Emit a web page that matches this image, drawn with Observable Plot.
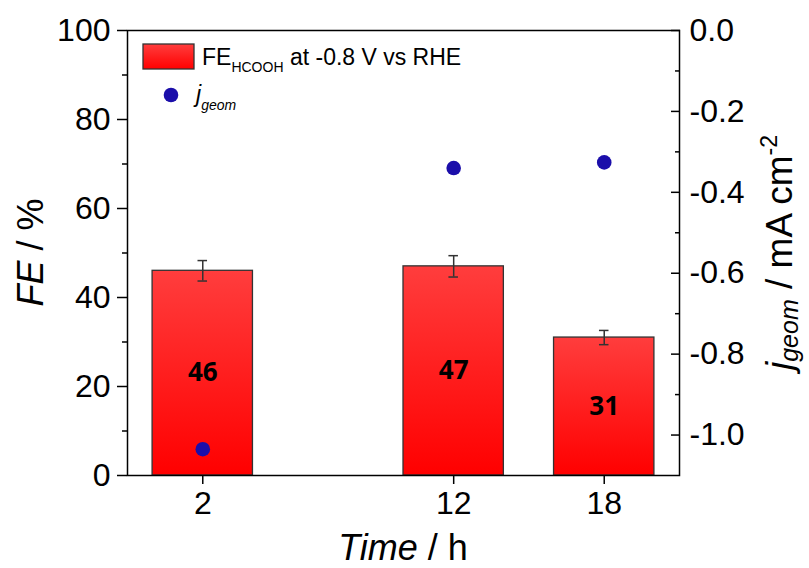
<!DOCTYPE html>
<html><head><meta charset="utf-8">
<script src="https://cdn.jsdelivr.net/npm/d3@7"></script>
<script src="https://cdn.jsdelivr.net/npm/@observablehq/plot@0.6"></script>
<style>body{margin:0;background:#fff} svg{display:block}</style>
</head><body><div id="chart"></div>
<script>
// ---- data ----
const times = [2, 12, 18];
const fe = [46, 47, 31];
const feErr = [2.3, 2.4, 1.6];
const jGeom = [-1.035, -0.34, -0.326];
const feTicks = [0, 20, 40, 60, 80, 100];
const feMinor = [10, 30, 50, 70, 90];
const jTicks = [0, -0.2, -0.4, -0.6, -0.8, -1.0];
const jMinor = [-0.1, -0.3, -0.5, -0.7, -0.9];
const feDomain = [0, 100];
const jDomain = [-1.1, 0];
const xDomain = [-1, 21];
const legendBar = "FE";
const legendBarSub = "HCOOH";
const legendBarRest = " at -0.8 V vs RHE";

const fam = "Liberation Sans, Arial, sans-serif";
const barHalf = 2, capHalf = 0.19;
const j2fe = d3.scaleLinear().domain(jDomain).range(feDomain);
const rows = times.map((t, i) => ({t, fe: fe[i], err: feErr[i], j: jGeom[i]}));
const fmtJ = d => { const v = j2fe.invert(d); return (Math.abs(v) < 1e-9 ? 0 : v).toFixed(1); };

const W = 809, H = 568, mL = 127, mR = 130, mT = 30, mB = 93;

const chart = Plot.plot({
  width: W, height: H,
  marginLeft: mL, marginRight: mR, marginTop: mT, marginBottom: mB,
  style: {fontFamily: fam, background: "white", color: "black"},
  x: {domain: xDomain},
  y: {domain: feDomain},
  marks: [
    Plot.rectY(rows, {x1: d => d.t - barHalf, x2: d => d.t + barHalf, y1: 0, y2: "fe",
      fill: "url(#barGrad)", stroke: "#333", strokeWidth: 1.3}),
    Plot.ruleX(rows, {x: "t", y1: d => d.fe - d.err, y2: d => d.fe + d.err, stroke: "#333", strokeWidth: 1.5}),
    Plot.ruleY(rows, {y: d => d.fe + d.err, x1: d => d.t - capHalf, x2: d => d.t + capHalf, stroke: "#333", strokeWidth: 1.5}),
    Plot.ruleY(rows, {y: d => d.fe - d.err, x1: d => d.t - capHalf, x2: d => d.t + capHalf, stroke: "#333", strokeWidth: 1.5}),
    Plot.text(rows, {x: "t", y: d => d.fe / 2, text: d => String(d.fe), fontSize: 26, fontWeight: "bold",
      fontFamily: "Open Sans, sans-serif", fill: "black"}),
    Plot.dot(rows, {x: "t", y: d => j2fe(d.j), r: 7.3, fill: "#1b0eaa", stroke: "none"}),
    Plot.frame({stroke: "black", strokeWidth: 1.5}),
    Plot.axisY(feTicks, {anchor: "left", tickSize: 10, tickPadding: 7, fontSize: 32, label: null, strokeWidth: 1.5}),
    Plot.axisY(feMinor, {anchor: "left", tickSize: 5, tickFormat: () => "", label: null, strokeWidth: 1.5}),
    Plot.axisY(jTicks.map(j2fe), {anchor: "right", tickSize: -9, tickPadding: 19, tickFormat: fmtJ, fontSize: 32, label: null, strokeWidth: 1.5}),
    Plot.axisY(jMinor.map(j2fe), {anchor: "right", tickSize: -5, tickFormat: () => "", label: null, strokeWidth: 1.5}),
    Plot.axisX(times, {tickSize: 9, tickPadding: 7, fontSize: 32, label: null, strokeWidth: 1.5})
  ]
});
document.getElementById("chart").appendChild(chart);

const svg = d3.select(chart);
const defs = svg.insert("defs", ":first-child");
const g = defs.append("linearGradient").attr("id", "barGrad").attr("x1", 0).attr("y1", 0).attr("x2", 0).attr("y2", 1);
g.append("stop").attr("offset", "0%").attr("stop-color", "#ff3d3d");
g.append("stop").attr("offset", "100%").attr("stop-color", "#ff0000");

const cx = (mL + (W - mR)) / 2, cy = (mT + (H - mB)) / 2;

// x title
const xt = svg.append("text").attr("x", cx).attr("y", 560).attr("text-anchor", "middle")
  .attr("font-size", 36).attr("font-family", fam).attr("fill", "black");
xt.append("tspan").attr("font-style", "italic").text("Time");
xt.append("tspan").text(" / h");

// left title
const yl = svg.append("text").attr("transform", `translate(43,${cy}) rotate(-90)`).attr("text-anchor", "middle")
  .attr("font-size", 36).attr("font-family", fam).attr("fill", "black");
yl.append("tspan").attr("font-style", "italic").text("FE");
yl.append("tspan").text(" / %");

// right title
const yr = svg.append("text").attr("transform", `translate(792,${cy}) rotate(-90)`).attr("text-anchor", "middle")
  .attr("font-size", 37).attr("font-family", fam).attr("fill", "black");
yr.append("tspan").attr("font-style", "italic").text("j");
yr.append("tspan").attr("font-style", "italic").attr("font-size", 25).attr("dy", 6).text("geom");
yr.append("tspan").attr("dy", -6).text(" / mA cm");
yr.append("tspan").attr("font-size", 23).attr("dy", -15).text("-2");

// legend
svg.append("rect").attr("x", 143).attr("y", 44).attr("width", 51).attr("height", 25)
  .attr("fill", "url(#barGrad)").attr("stroke", "#333").attr("stroke-width", 1.3);
const lt = svg.append("text").attr("x", 202).attr("y", 65).attr("text-anchor", "start")
  .attr("font-size", 23).attr("font-family", fam).attr("fill", "black");
lt.append("tspan").text(legendBar);
lt.append("tspan").attr("font-size", 14).attr("dy", 7).text(legendBarSub);
lt.append("tspan").attr("dy", -7).text(legendBarRest);
svg.append("circle").attr("cx", 171).attr("cy", 95).attr("r", 7.3).attr("fill", "#1b0eaa");
const lj = svg.append("text").attr("x", 196).attr("y", 102).attr("text-anchor", "start")
  .attr("font-size", 23).attr("font-family", fam).attr("font-style", "italic").attr("fill", "black");
lj.append("tspan").text("j");
lj.append("tspan").attr("font-size", 14).attr("dy", 8).text("geom");
</script></body></html>
